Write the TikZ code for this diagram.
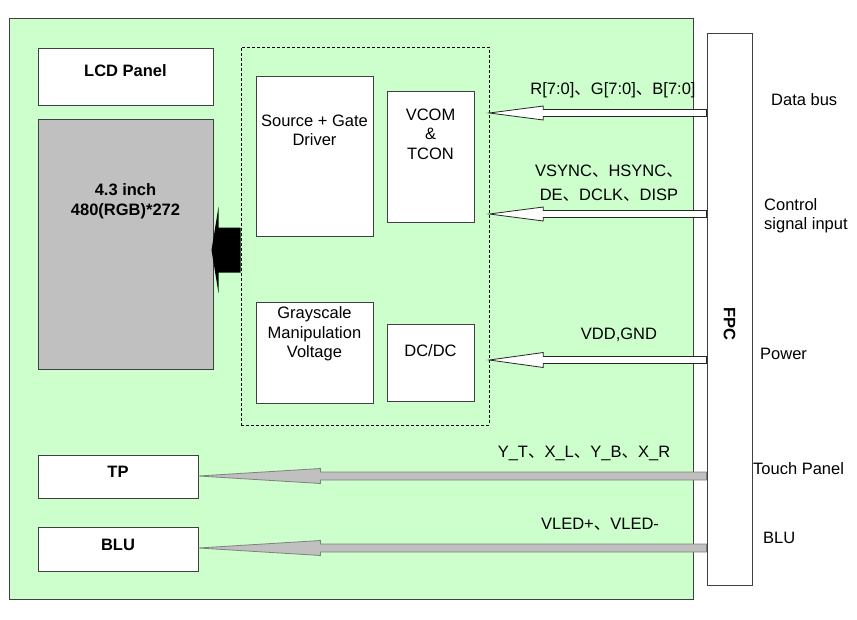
\documentclass[tikz,border=0pt]{standalone}
\usepackage{fontspec}
\setmainfont{Liberation Sans}
\newfontfamily\cjkfont{Noto Sans CJK SC}
\usetikzlibrary{calc,positioning}

\definecolor{boardgreen}{RGB}{204,255,204}
\definecolor{panelgrey}{RGB}{192,192,192}
\definecolor{edgegrey}{RGB}{64,64,64}

\newcommand{\txtfont}{\fontsize{16.5}{19.5}\selectfont}
\newcommand{\dun}{{\cjkfont 、}}

% fat arrow from the FPC to a block: style, tail node, tip node, level, shaft half, head half, head length
\newcommand{\fatarrow}[7]{%
  \draw[#1] ($(#2.west |- #4)+(0,-#5)$) -- ($(#3.east |- #4)+(#7,-#5)$)
    -- ($(#3.east |- #4)+(#7,-#6)$) -- (#3.east |- #4)
    -- ($(#3.east |- #4)+(#7,#6)$) -- ($(#3.east |- #4)+(#7,#5)$)
    -- ($(#2.west |- #4)+(0,#5)$) -- cycle;}

\tikzset{
  board/.style={draw=edgegrey,fill=boardgreen,line width=1pt},
  unit/.style={draw=edgegrey,fill=white,line width=1pt,inner sep=0pt},
  drvframe/.style={draw=black,dash pattern=on 3pt off 2pt,line width=0.6pt,inner sep=0pt},
  lbl/.style={inner sep=0pt,align=center},
  bold/.style={font=\txtfont\bfseries},
  hollow/.style={draw=black!85,fill=white,line width=0.8pt},
  greyarrow/.style={draw=black!50,fill=panelgrey,line width=0.8pt},
}

\begin{document}
\begin{tikzpicture}[x=1pt,y=-1pt,font=\txtfont]
\useasboundingbox (0,0) rectangle (857,619);

\draw[board] (9,18) rectangle (693,599);

% left column
\node[unit,minimum width=175,minimum height=57] (lcd) at (125.5,76.5) {};
\node[lbl,bold] at ($(lcd.center)+(0,-6)$) {LCD Panel};
\node[unit,fill=panelgrey,minimum width=175,minimum height=250] (panel) at (125.5,244) {};
\node[lbl,bold,anchor=north] (size) at ($(panel.north)+(0,65)$) {4.3 inch\\480(RGB)*272};
\node[unit,minimum width=160,minimum height=43] (tp) at (118,476.5) {};
\node[lbl,bold] at ($(tp.center)+(0,-5)$) {TP};
\node[unit,minimum width=160,minimum height=44] (blu) at (118,549) {};
\node[lbl,bold] at ($(blu.center)+(0,-4)$) {BLU};

% driver IC
\node[drvframe,minimum width=248,minimum height=378] (drv) at (365,236) {};
\node[unit,minimum width=117,minimum height=160] (src) at (314.5,156) {};
\node[lbl,anchor=north] at ($(src.north)+(0,39)$) {Source + Gate\\Driver};
\node[unit,minimum width=87,minimum height=131] (vcom) at (430.5,156.5) {};
\node[lbl,anchor=north] at ($(vcom.north)+(0,18)$) {VCOM\\\&\\TCON};
\node[unit,minimum width=117,minimum height=101] (gray) at (314.5,352.5) {};
\node[lbl,anchor=north] at ($(gray.north)+(0,5)$) {Grayscale\\Manipulation\\Voltage};
\node[unit,minimum width=87,minimum height=77] (dcdc) at (430.5,362.5) {};
\node[lbl] at ($(dcdc.center)+(0,-12)$) {DC/DC};

% FPC
\node[unit,minimum width=45,minimum height=552] (fpc) at (729.5,309) {};
\node[lbl,bold,rotate=-90] at ($(fpc.center)+(0,15)$) {FPC};

% signal levels
\coordinate (ydata) at (0,113);
\coordinate (yctrl) at (0,214);
\coordinate (ypwr) at (0,360);
\coordinate (ytp) at (0,476);
\coordinate (yblu) at (0,548);
\coordinate (ypanel) at (0,250);

\fatarrow{hollow}{fpc}{drv}{ydata}{3.5}{7}{54}
\fatarrow{hollow}{fpc}{drv}{yctrl}{3.5}{7}{54}
\fatarrow{hollow}{fpc}{drv}{ypwr}{3.5}{7.5}{54}
\fatarrow{greyarrow}{fpc}{tp}{ytp}{4}{7.5}{122}
\fatarrow{greyarrow}{fpc}{blu}{yblu}{4}{7.5}{122}

% output to the panel
\fill ($(drv.west |- ypanel)+(0,-22.5)$) -- ($(panel.east |- ypanel)+(5,-22.5)$)
  -- ($(panel.east |- ypanel)+(5,-43)$) -- ($(panel.east |- ypanel)+(-2,0)$)
  -- ($(panel.east |- ypanel)+(5,43)$) -- ($(panel.east |- ypanel)+(5,22.5)$)
  -- ($(drv.west |- ypanel)+(0,22.5)$) -- cycle;

% signal labels
\node[lbl,anchor=base] at (613,94) {R[7:0]\dun G[7:0]\dun B[7:0]};
\node[lbl,anchor=north,font=\fontsize{16.5}{24}\selectfont] at (609,165) {VSYNC\dun HSYNC\dun\\DE\dun DCLK\dun DISP};
\node[lbl,anchor=base] at (619,339) {VDD,GND};
\node[lbl,anchor=base] at (584,457) {Y\_T\dun X\_L\dun Y\_B\dun X\_R};
\node[lbl,anchor=base] at (600,529) {VLED+\dun VLED-};

% FPC pin groups
\node[lbl,anchor=base west] at (771,105) {Data bus};
\node[lbl,anchor=north west,align=left] at (764,198) {Control\\signal input};
\node[lbl,anchor=base west] at (760,359) {Power};
\node[lbl,anchor=base west] at (753,474) {Touch Panel};
\node[lbl,anchor=base west] at (763,543) {BLU};
\end{tikzpicture}
\end{document}
